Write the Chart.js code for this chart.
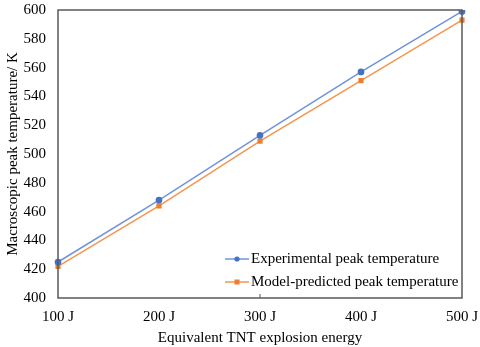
<!DOCTYPE html>
<html>
<head>
<meta charset="utf-8">
<script src="https://cdn.jsdelivr.net/npm/chart.js@4/dist/chart.umd.min.js"></script>
<style>
  html, body { margin: 0; padding: 0; background: #fff; }
  #wrap { width: 480px; height: 347px; }
</style>
</head>
<body>
<div id="wrap"><canvas id="myChart" width="480" height="347"></canvas></div>
<script>
const energyLabels = ["100 J", "200 J", "300 J", "400 J", "500 J"];
const experimentalTemp = [425, 468, 513, 557, 599];
const modelTemp = [422, 464, 509, 551, 593];
const yTicks = [400, 420, 440, 460, 480, 500, 520, 540, 560, 580, 600];

const FONT = "'Liberation Serif', 'Times New Roman', serif";
const AXIS_COLOR = "#595959";

Chart.defaults.font.family = FONT;
Chart.defaults.color = "#000";

// frame around the plot area plus the single tick on the x axis
const framePlugin = {
  id: "frame",
  afterDraw(chart) {
    const { ctx, chartArea } = chart;
    ctx.save();
    ctx.strokeStyle = AXIS_COLOR;
    ctx.lineWidth = 1.5;
    ctx.strokeRect(chartArea.left, chartArea.top, chartArea.right - chartArea.left, chartArea.bottom - chartArea.top);
    const x = chart.scales.x.getPixelForValue(2);
    ctx.lineWidth = 1;
    ctx.beginPath();
    ctx.moveTo(x, chartArea.bottom);
    ctx.lineTo(x, chartArea.bottom - 4);
    ctx.stroke();
    ctx.restore();
  }
};

// legend drawn inside the plot, bottom right
const insideLegend = {
  id: "insideLegend",
  afterDraw(chart) {
    const { ctx, chartArea } = chart;
    const x0 = chartArea.left + 167;
    let y = chartArea.bottom - 39;
    ctx.save();
    ctx.font = "15px " + FONT;
    ctx.textBaseline = "middle";
    chart.data.datasets.forEach(function (ds) {
      ctx.strokeStyle = ds.borderColor;
      ctx.lineWidth = 1.5;
      ctx.beginPath();
      ctx.moveTo(x0, y);
      ctx.lineTo(x0 + 24, y);
      ctx.stroke();
      ctx.fillStyle = ds.pointBackgroundColor;
      if (ds.pointStyle === "rect") {
        ctx.fillRect(x0 + 12 - 2.5, y - 2.5, 5, 5);
      } else {
        ctx.beginPath();
        ctx.arc(x0 + 12, y, 2.6, 0, Math.PI * 2);
        ctx.fill();
      }
      ctx.fillStyle = "#000";
      ctx.fillText(ds.label, x0 + 26, y);
      y += 23;
    });
    ctx.restore();
  }
};

const data = {
  labels: energyLabels,
  datasets: [
    {
      label: "Experimental peak temperature",
      data: experimentalTemp,
      borderColor: "#6f94dc",
      pointBackgroundColor: "#4472c4",
      pointBorderColor: "#4472c4",
      pointStyle: "circle",
      pointRadius: 2.6,
      borderWidth: 1.5,
      tension: 0
    },
    {
      label: "Model-predicted peak temperature",
      data: modelTemp,
      borderColor: "#f4954f",
      pointBackgroundColor: "#ed7d31",
      pointBorderColor: "#ed7d31",
      pointStyle: "rect",
      pointRadius: 2.6,
      borderWidth: 1.5,
      tension: 0
    }
  ]
};

const config = {
  type: "line",
  data,
  options: {
    responsive: false,
    animation: false,
    layout: {
      padding: { top: 0, right: 0, left: 0, bottom: 0 }
    },
    plugins: {
      legend: { display: false },
      tooltip: { enabled: false }
    },
    scales: {
      x: {
        type: "category",
        offset: false,
        grid: { display: false, drawTicks: false },
        border: { display: false },
        ticks: {
          padding: 10,
          maxRotation: 0,
          font: { size: 15 }
        },
        title: {
          display: true,
          text: "Equivalent TNT explosion energy",
          font: { size: 15 },
          padding: { top: 0, bottom: 0 }
        },
        afterFit: function (scale) {
          scale.height = 49;
          scale.paddingLeft = 0;
          scale.paddingRight = 18;
        }
      },
      y: {
        min: 400,
        max: 600,
        afterBuildTicks: function (scale) {
          scale.ticks = yTicks.map(function (v) { return { value: v }; });
        },
        grid: { display: false, drawTicks: false },
        border: { display: false },
        ticks: {
          padding: 12,
          font: { size: 15 }
        },
        title: {
          display: true,
          text: "Macroscopic peak temperature/ K",
          font: { size: 15 },
          padding: { top: 4, bottom: 4 }
        },
        afterFit: function (scale) {
          scale.width = 58;
          scale.paddingTop = 10;
          scale.paddingBottom = 0;
        }
      }
    }
  },
  plugins: [framePlugin, insideLegend]
};

new Chart(document.getElementById("myChart").getContext("2d"), config);
</script>
</body>
</html>
